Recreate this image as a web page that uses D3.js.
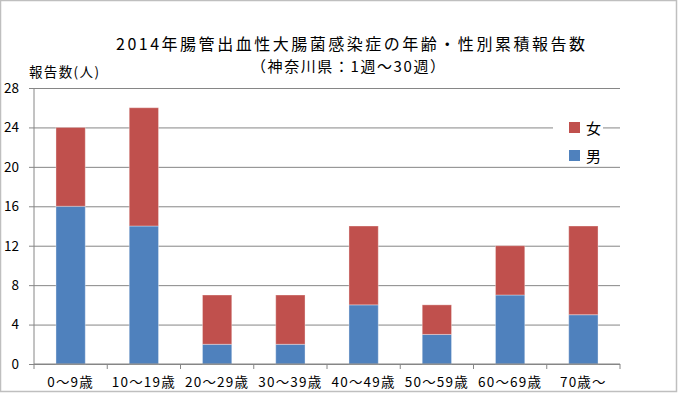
<!DOCTYPE html>
<html>
<head>
<meta charset="utf-8">
<script src="https://cdn.jsdelivr.net/npm/d3@7"></script>
<style>
  body { margin: 0; background: #fff; }
  text { font-family: "Noto Sans CJK JP", "Noto Sans", sans-serif; fill: #000; }
</style>
</head>
<body>
<div id="chart"></div>
<script>
// data
const categories = ["0～9歳", "10～19歳", "20～29歳", "30～39歳", "40～49歳", "50～59歳", "60～69歳", "70歳～"];
const male = [16, 14, 2, 2, 6, 3, 7, 5];
const female = [8, 12, 5, 5, 8, 3, 5, 9];
const yTicks = [0, 4, 8, 12, 16, 20, 24, 28];
const seriesNames = ["男", "女"];
const colors = {"男": "#4F81BD", "女": "#C0504D"};

const W = 680, H = 395;
const margin = {top: 88, right: 60, bottom: 31, left: 34};
const width = 620 - margin.left, height = 364 - margin.top;

const svg = d3.select("#chart").append("svg")
  .attr("width", W).attr("height", H);

// outer border
svg.append("rect")
  .attr("x", 0.5).attr("y", 0.5).attr("width", 676).attr("height", 391)
  .attr("fill", "#fff").attr("stroke", "#bfbfbf").attr("stroke-width", 1.5);

const g = svg.append("g").attr("transform", "translate(" + margin.left + "," + margin.top + ")");

const x = d3.scaleBand().domain(categories).range([0, width]).paddingInner(0.6).paddingOuter(0.3);
const y = d3.scaleLinear().domain([0, 28]).range([height, 0]);

// gridlines
g.append("g")
  .call(d3.axisLeft(y).tickValues(yTicks).tickSize(-width).tickFormat(""))
  .call(a => a.select(".domain").remove())
  .selectAll("line").attr("stroke", "#868686").attr("x1", -5);

// stacked data
const rows = categories.map((c, i) => ({cat: c, "男": male[i], "女": female[i]}));
const stacked = d3.stack().keys(seriesNames)(rows);

g.selectAll("g.series").data(stacked).enter().append("g")
  .attr("class", "series")
  .attr("fill", d => colors[d.key])
  .selectAll("rect").data(d => d).enter().append("rect")
  .attr("x", d => x(d.data.cat))
  .attr("width", x.bandwidth())
  .attr("y", d => y(d[1]))
  .attr("height", d => y(d[0]) - y(d[1]))
  .attr("stroke", "#ffffff").attr("stroke-opacity", 0.35).attr("stroke-width", 1);

// y axis line
g.append("line").attr("x1", 0).attr("x2", 0).attr("y1", 0).attr("y2", height)
  .attr("stroke", "#868686");

// y tick labels
g.selectAll("text.ytick").data(yTicks).enter().append("text")
  .attr("class", "ytick")
  .attr("x", -15).attr("y", d => y(d)).attr("dy", "0.36em")
  .attr("text-anchor", "end").style("font-size", "13.5px")
  .text(d => d);

// x axis
g.append("line").attr("x1", 0).attr("x2", width).attr("y1", height).attr("y2", height)
  .attr("stroke", "#868686");
g.selectAll("line.xtick").data(d3.range(categories.length + 1)).enter().append("line")
  .attr("class", "xtick")
  .attr("x1", i => i * width / categories.length).attr("x2", i => i * width / categories.length)
  .attr("y1", height).attr("y2", height + 5).attr("stroke", "#868686");
g.selectAll("text.xlab").data(categories).enter().append("text")
  .attr("class", "xlab")
  .attr("x", d => x(d) + x.bandwidth() / 2).attr("y", height + 23)
  .attr("text-anchor", "middle").style("font-size", "13.5px").style("letter-spacing", "1.2px")
  .text(d => d);

// titles
svg.append("text").attr("x", 116).attr("y", 50)
  .attr("textLength", 469).attr("lengthAdjust", "spacing")
  .style("font-size", "16px").text("2014年腸管出血性大腸菌感染症の年齢・性別累積報告数");
svg.append("text").attr("x", 251).attr("y", 72)
  .attr("textLength", 194).attr("lengthAdjust", "spacing")
  .style("font-size", "15px").text("（神奈川県：1週～30週）");
svg.append("text").attr("x", 29).attr("y", 77)
  .attr("textLength", 70).attr("lengthAdjust", "spacing")
  .style("font-size", "13.5px").text("報告数(人)");

// legend
const legendItems = ["女", "男"];
const legend = svg.append("g").attr("transform", "translate(553,118)");
legend.append("rect").attr("x", 0).attr("y", -6).attr("width", 50).attr("height", 52).attr("fill", "#fff");
legend.selectAll("g").data(legendItems).enter().append("g")
  .attr("transform", (d, i) => "translate(0," + (i * 28) + ")")
  .each(function(d) {
    const item = d3.select(this);
    item.append("rect").attr("x", 16).attr("y", 4).attr("width", 11).attr("height", 11)
      .attr("fill", colors[d]);
    item.append("text").attr("x", 33).attr("y", 16).style("font-size", "15px").text(d);
  });
</script>
</body>
</html>
